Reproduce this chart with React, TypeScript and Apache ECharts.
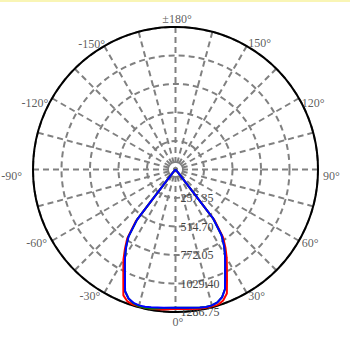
import React, { useEffect, useRef } from 'react';
import * as echarts from 'echarts';

// Polar angles in degrees (0 = straight down, positive to the right)
const angles = [-180, -90, -45, -40, -37.5, -35, -32.5, -30, -27.5, -25, -22.5, -20, -17.5, -15, -12.5, -10, -5, 0, 5, 10, 12.5, 15, 17.5, 20, 22.5, 25, 27.5, 30, 32.5, 35, 37.5, 40, 45, 90, 180];

const redValues = [0, 0, 0, 45, 590, 760, 850, 940, 1020, 1115, 1230, 1268, 1280, 1284, 1284, 1278, 1268, 1260, 1265, 1276, 1284, 1286.75, 1280, 1258, 1212, 1100, 1005, 925, 840, 750, 580, 45, 0, 0, 0];
const greenValues = [0, 0, 0, 40, 570, 740, 830, 912, 990, 1080, 1190, 1240, 1266, 1280, 1282, 1276, 1256, 1248, 1254, 1266, 1272, 1270, 1258, 1228, 1168, 1060, 970, 895, 815, 725, 560, 40, 0, 0, 0];
const blueValues = [0, 0, 0, 40, 570, 740, 830, 912, 990, 1080, 1190, 1240, 1262, 1270, 1270, 1264, 1254, 1248, 1254, 1266, 1272, 1270, 1258, 1228, 1168, 1060, 970, 895, 815, 725, 560, 40, 0, 0, 0];

// angle tick labels
const angleLabelValues = [-150, -120, -90, -60, -30, 0, 30, 60, 90, 120, 150, 180];

const radiusMax = 1286.75;
const radiusStep = 257.35;
const angleStep = 15;

function toAxisAngle(a: number) {
  return a < 0 ? a + 360 : a;
}

function toPairs(vals: number[]) {
  return angles.map((a, i) => [vals[i], toAxisAngle(a)]);
}

const labelFont = { fontFamily: 'Liberation Serif', fontSize: 12, color: '#333333' };

// per-label placement styling (align, [dx, dy]) relative to the outer circle
const labelPlacement: Record<number, [string, number, number]> = {
  0: ['center', 2.5, 10],
  30: ['left', 1.5, 3],
  60: ['left', 2.8, 2],
  90: ['left', 5, 6.5],
  120: ['left', 2.8, 5],
  150: ['left', 1.5, -2.8],
  180: ['center', 1.5, -8],
  [-150]: ['right', 0.8, -2],
  [-120]: ['right', -3.8, 4.5],
  [-90]: ['right', -11, 6.5],
  [-60]: ['right', -5, 2],
  [-30]: ['right', -4, 3],
};

export default function App() {
  const ref = useRef<HTMLDivElement>(null);
  useEffect(() => {
    if (!ref.current) return;
    const chart = echarts.init(ref.current, undefined, { renderer: 'svg' });
    const gridLine = { color: '#808080', width: 2, type: [6, 4] as number[] };
    const labelData = angleLabelValues.map((a) => {
      const p = labelPlacement[a];
      return {
        value: [radiusMax, toAxisAngle(a)],
        name: a === 180 ? '±180°' : a + '°',
        label: { align: p[0], offset: [p[1], p[2]] },
      };
    });
    chart.setOption({
      animation: false,
      backgroundColor: '#ffffff',
      polar: { center: [175.5, 169.5], radius: 142.5 },
      angleAxis: {
        type: 'value',
        min: 0,
        max: 360,
        interval: angleStep,
        startAngle: 270,
        clockwise: false,
        axisLine: { show: true, lineStyle: { color: '#000000', width: 2 } },
        axisTick: { show: false },
        axisLabel: { show: false },
        splitLine: { show: true, lineStyle: gridLine },
      },
      radiusAxis: {
        type: 'value',
        min: 0,
        max: radiusMax,
        interval: radiusStep,
        axisLine: { show: false },
        axisTick: { show: false },
        splitLine: { show: true, lineStyle: gridLine },
        axisLabel: {
          showMinLabel: false,
          margin: 5,
          fontFamily: 'Liberation Serif',
          fontSize: 12,
          color: '#444444',
          formatter: (v: number) => (v === 0 ? '' : v.toFixed(2)),
        },
      },
      series: [
        { type: 'line', coordinateSystem: 'polar', data: toPairs(redValues), showSymbol: false, symbol: 'none', lineStyle: { color: '#ff0000', width: 2 }, z: 3 },
        { type: 'line', coordinateSystem: 'polar', data: toPairs(greenValues), showSymbol: false, symbol: 'none', lineStyle: { color: '#008000', width: 2 }, z: 4 },
        { type: 'line', coordinateSystem: 'polar', data: toPairs(blueValues), showSymbol: false, symbol: 'none', lineStyle: { color: '#0000ff', width: 2 }, z: 5 },
        {
          type: 'scatter',
          coordinateSystem: 'polar',
          clip: false,
          silent: true,
          symbolSize: 0,
          z: 6,
          data: labelData,
          label: {
            show: true,
            position: 'inside',
            verticalAlign: 'middle',
            formatter: (p: any) => p.name,
            ...labelFont,
          },
        },
      ],
    });
    return () => chart.dispose();
  }, []);
  return (
    <div style={{ position: 'fixed', left: 0, top: 0, width: 350, height: 350, background: '#ffffff' }}>
      <div ref={ref} style={{ position: 'absolute', left: 0, top: 0, width: 350, height: 350 }} />
      <div style={{ position: 'absolute', left: 0, top: 0, width: 350, height: 2, background: '#f9f5b5', zIndex: 2 }} />
    </div>
  );
}
